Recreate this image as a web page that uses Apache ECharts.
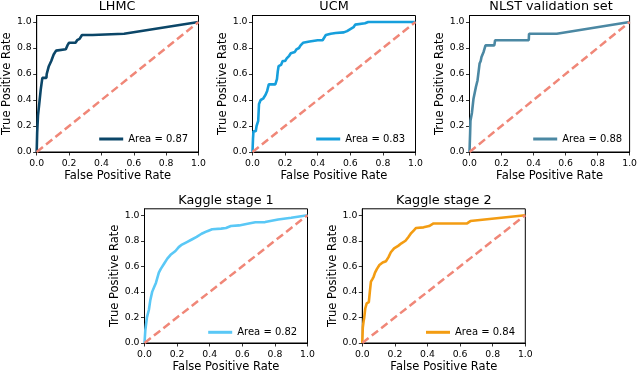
<!DOCTYPE html>
<html>
<head>
<meta charset="utf-8">
<script src="https://cdn.jsdelivr.net/npm/echarts@6/dist/echarts.min.js"></script>
<style>html,body{margin:0;padding:0;background:#fff}#c{width:640px;height:374px}</style>
</head>
<body>
<div id="c"></div>
<script>
const panelTitles = ['LHMC', 'UCM', 'NLST validation set', 'Kaggle stage 1', 'Kaggle stage 2'];
const areaLabels = ['Area = 0.87', 'Area = 0.83', 'Area = 0.88', 'Area = 0.82', 'Area = 0.84'];
const tickValues = [0, 0.2, 0.4, 0.6, 0.8, 1.0];
const chanceFpr = [0, 1];
const chanceTpr = [0, 1];

const lhmcFpr = [0, 0.003, 0.008, 0.015, 0.025, 0.035, 0.06, 0.062, 0.07, 0.075, 0.085, 0.09, 0.1, 0.105, 0.115, 0.12, 0.125, 0.18, 0.19, 0.2, 0.24, 0.25, 0.265, 0.28, 0.345, 0.35, 0.54, 1.0];
const lhmcTpr = [0, 0.15, 0.28, 0.36, 0.48, 0.57, 0.57, 0.6, 0.6, 0.66, 0.66, 0.7, 0.7, 0.75, 0.75, 0.78, 0.79, 0.79, 0.82, 0.84, 0.84, 0.86, 0.87, 0.9, 0.9, 0.91, 0.91, 1.0];

const ucmFpr = [0, 0.003, 0.006, 0.02, 0.025, 0.035, 0.04, 0.05, 0.065, 0.08, 0.09, 0.1, 0.14, 0.15, 0.155, 0.16, 0.175, 0.185, 0.2, 0.21, 0.225, 0.235, 0.26, 0.27, 0.285, 0.295, 0.31, 0.35, 0.4, 0.43, 0.45, 0.48, 0.51, 0.56, 0.58, 0.6, 0.62, 0.63, 0.69, 0.71, 1.0];
const ucmTpr = [0, 0.1, 0.16, 0.16, 0.2, 0.24, 0.37, 0.4, 0.41, 0.44, 0.47, 0.52, 0.52, 0.56, 0.62, 0.66, 0.67, 0.7, 0.7, 0.72, 0.74, 0.76, 0.77, 0.79, 0.8, 0.82, 0.84, 0.85, 0.86, 0.86, 0.9, 0.91, 0.915, 0.92, 0.93, 0.945, 0.96, 0.98, 0.99, 1.0, 1.0];

const nlstFpr = [0, 0.004, 0.006, 0.015, 0.025, 0.035, 0.04, 0.045, 0.05, 0.06, 0.063, 0.07, 0.075, 0.08, 0.088, 0.097, 0.1, 0.155, 0.16, 0.37, 0.372, 0.545, 1.0];
const nlstTpr = [0, 0.15, 0.24, 0.3, 0.41, 0.41, 0.5, 0.5, 0.55, 0.55, 0.68, 0.7, 0.73, 0.73, 0.77, 0.77, 0.82, 0.82, 0.86, 0.86, 0.91, 0.91, 1.0];

const kaggle1Fpr = [0, 0.005, 0.015, 0.027, 0.035, 0.047, 0.06, 0.07, 0.088, 0.1, 0.12, 0.14, 0.16, 0.19, 0.21, 0.23, 0.26, 0.29, 0.32, 0.35, 0.385, 0.415, 0.47, 0.5, 0.53, 0.58, 0.64, 0.68, 0.74, 0.82, 0.9, 1.0];
const kaggle1Tpr = [0, 0.1, 0.2, 0.26, 0.33, 0.4, 0.44, 0.47, 0.55, 0.58, 0.62, 0.66, 0.69, 0.72, 0.75, 0.77, 0.79, 0.81, 0.83, 0.855, 0.875, 0.89, 0.895, 0.9, 0.915, 0.92, 0.935, 0.945, 0.946, 0.966, 0.98, 1.0];

const kaggle2Fpr = [0, 0.003, 0.008, 0.012, 0.018, 0.027, 0.04, 0.047, 0.053, 0.062, 0.07, 0.078, 0.09, 0.105, 0.125, 0.145, 0.16, 0.175, 0.195, 0.22, 0.24, 0.265, 0.283, 0.3, 0.315, 0.33, 0.376, 0.41, 0.437, 0.643, 0.663, 1.0];
const kaggle2Tpr = [0, 0.12, 0.17, 0.2, 0.27, 0.31, 0.32, 0.41, 0.48, 0.5, 0.52, 0.55, 0.58, 0.61, 0.63, 0.64, 0.67, 0.71, 0.74, 0.76, 0.78, 0.8, 0.83, 0.86, 0.88, 0.9, 0.905, 0.915, 0.935, 0.936, 0.954, 1.0];

const curves = [[lhmcFpr, lhmcTpr], [ucmFpr, ucmTpr], [nlstFpr, nlstTpr], [kaggle1Fpr, kaggle1Tpr], [kaggle2Fpr, kaggle2Tpr]];
const colors = ['#0b4668', '#169fdc', '#4b88a3', '#5ac8f6', '#f39c12'];
const chanceColor = '#f08778';

const W = 163, H = 136.5;
const layout = [
  {left: 35.5, top: 15.5},
  {left: 252.5, top: 15.5},
  {left: 469.5, top: 15.5},
  {left: 144.5, top: 208.8},
  {left: 362.3, top: 208.8}
];
const FONT = 'DejaVu Sans';

const zip = (xs, ys) => xs.map((x, i) => [x, ys[i]]);

const grid = [], xAxis = [], yAxis = [], series = [], title = [], legend = [];
layout.forEach((p, i) => {
  grid.push({left: p.left, top: p.top, width: W, height: H, show: true, borderColor: '#000', borderWidth: 1, backgroundColor: 'transparent'});
  const axisCommon = {
    gridIndex: i, type: 'value', min: 0,
    nameLocation: 'middle',
    nameTextStyle: {fontFamily: FONT, fontSize: 11.5, color: '#000'},
    axisLine: {show: true, onZero: false, lineStyle: {color: '#000', width: 1}},
    axisTick: {show: true, length: 3.5, lineStyle: {color: '#000', width: 0.8}, customValues: tickValues},
    axisLabel: {fontFamily: FONT, fontSize: 9.3, color: '#000', customValues: tickValues, formatter: v => v.toFixed(1)},
    splitLine: {show: false}
  };
  xAxis.push(Object.assign({}, axisCommon, {max: 1, name: 'False Positive Rate', nameGap: 18,
    axisLabel: Object.assign({}, axisCommon.axisLabel, {margin: 7})}));
  yAxis.push(Object.assign({}, axisCommon, {max: 1.05, name: 'True Positive Rate', nameGap: 22,
    axisLabel: Object.assign({}, axisCommon.axisLabel, {margin: 5})}));
  series.push({
    name: areaLabels[i], type: 'line', xAxisIndex: i, yAxisIndex: i,
    data: zip(curves[i][0], curves[i][1]), showSymbol: false, symbol: 'none',
    lineStyle: {color: colors[i], width: 2.6}, itemStyle: {color: colors[i]},
    animation: false, z: 3
  });
  series.push({
    type: 'line', xAxisIndex: i, yAxisIndex: i,
    data: zip(chanceFpr, chanceTpr), showSymbol: false, symbol: 'none',
    lineStyle: {color: chanceColor, width: 2.5, type: [8, 4]},
    animation: false, z: 4, silent: true
  });
  title.push({text: panelTitles[i], left: p.left + W / 2, top: p.top - 15, textAlign: 'center', padding: 0,
    textStyle: {fontFamily: FONT, fontSize: 12.8, fontWeight: 'normal', color: '#000'}});
  legend.push({data: [{name: areaLabels[i], icon: 'rect'}], left: p.left + 63.7, top: p.top + 118.5, padding: 0,
    itemWidth: 24, itemHeight: 3, textStyle: {fontFamily: FONT, fontSize: 10, color: '#000'}, selectedMode: false});
});

const chart = echarts.init(document.getElementById('c'), null, {renderer: 'canvas'});
chart.setOption({animation: false, backgroundColor: '#fff', title, legend, grid, xAxis, yAxis, series});
</script>
</body>
</html>
